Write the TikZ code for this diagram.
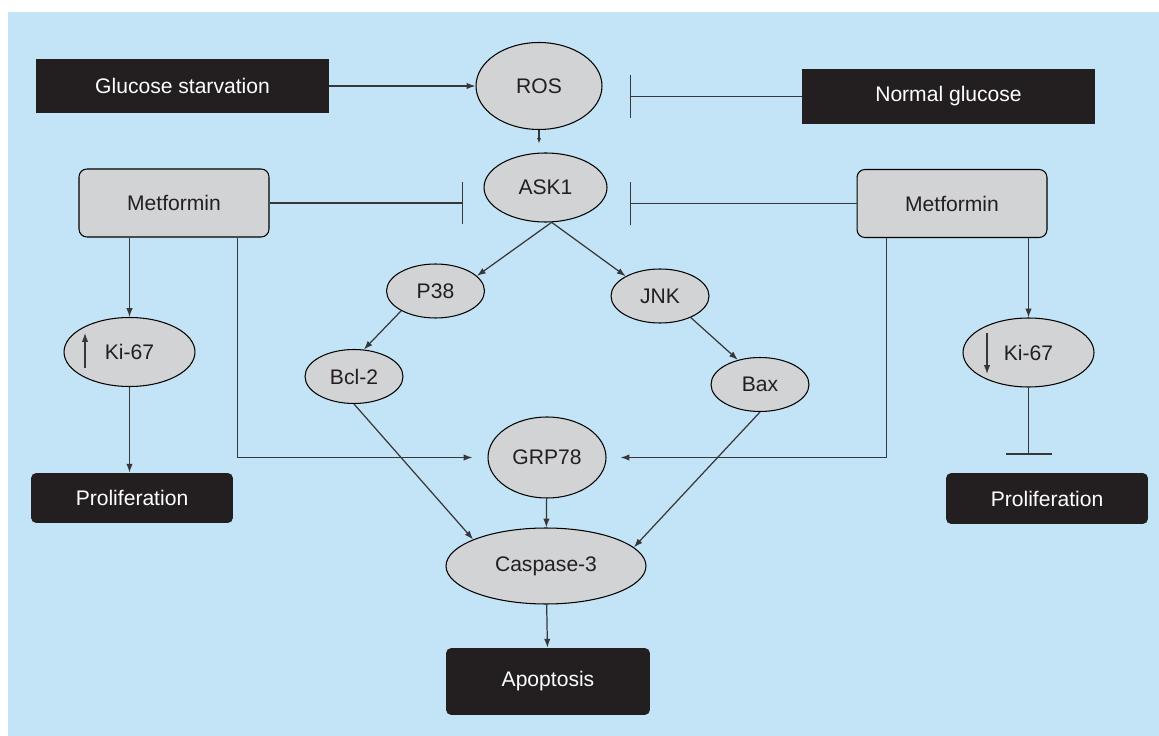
\documentclass[tikz,border=0pt]{standalone}
\usepackage{fontspec}
\setmainfont{Liberation Sans}
\usetikzlibrary{arrows.meta,shapes.geometric}

\begin{document}
\begin{tikzpicture}[x=0.02cm, y=-0.02cm,
  every node/.style={font=\fontsize{12}{14}\selectfont, inner sep=0pt},
  darkbox/.style={rectangle, fill=boxblack, text=white, minimum width=5.86cm, minimum height=1.1cm},
  endbox/.style={rectangle, rounded corners=3pt, fill=boxblack, text=white},
  drugbox/.style={rectangle, rounded corners=4.5pt, draw=black, line width=0.6pt, fill=cellgray, text=boxblack, minimum width=3.8cm, minimum height=1.36cm},
  oval/.style={ellipse, draw=black, line width=0.6pt, fill=cellgray, text=boxblack},
  smalloval/.style={oval, minimum width=1.96cm, minimum height=1.08cm},
  kioval/.style={oval, minimum width=2.62cm, minimum height=1.38cm},
  act/.style={draw=linegray, line width=0.7pt, -{Latex[length=5pt,width=3.6pt]}},
  inhibit/.style={draw=linegray, line width=0.7pt, -{Bar[width=0.86cm]}}]
  \definecolor{bgblue}{RGB}{194,228,246}
  \definecolor{cellgray}{RGB}{209,211,212}
  \definecolor{boxblack}{RGB}{35,31,32}
  \definecolor{linegray}{RGB}{55,55,58}
  \fill[white] (0,0) rectangle (1159,736);
  \fill[bgblue] (8,12) rectangle (1159,736);

  \node[darkbox] (starv) at (182.5,86) {Glucose starvation};
  \node[oval, minimum width=2.52cm, minimum height=1.74cm] (ros) at (539,86) {ROS};
  \node[darkbox] (normal) at (948.5,96.5) {Normal glucose};
  \node[oval, minimum width=2.46cm, minimum height=1.38cm] (ask) at (545.5,187.5) {ASK1};
  \node[drugbox] (metL) at (174,203) {Metformin};
  \node[drugbox] (metR) at (952,203.5) {Metformin};
  \node[kioval] (kiL) at (129.5,352) {Ki-67};
  \node[kioval] (kiR) at (1028.5,352.5) {Ki-67};
  \node[smalloval] (p38) at (435.5,291) {P38};
  \node[smalloval] (jnk) at (660,296) {JNK};
  \node[smalloval] (bcl) at (354,376.5) {Bcl-2};
  \node[smalloval] (bax) at (760,384.5) {Bax};
  \node[oval, minimum width=2.36cm, minimum height=1.62cm] (grp) at (547,457.5) {GRP78};
  \node[oval, minimum width=4cm, minimum height=1.52cm] (casp) at (546,566) {Caspase-3};
  \node[endbox, minimum width=4.04cm, minimum height=1cm] (proL) at (132,498) {Proliferation};
  \node[endbox, minimum width=4.04cm, minimum height=1.02cm] (proR) at (1047,498.5) {Proliferation};
  \node[endbox, minimum width=4.08cm, minimum height=1.34cm] (apo) at (548,681.5) {Apoptosis};

  \coordinate (rosbar) at (630,96.5);
  \coordinate (askbarL) at (463,203);
  \coordinate (askbarR) at (630,203.5);

  \draw[act] (starv.east) -- (ros.west);
  \draw[act, -{Latex[length=3pt,width=2.4pt]}, shorten >=0.18cm] (ros.south) -- (ros.south |- ask.north);
  \draw[inhibit] (normal.west) -- (rosbar);
  \draw[inhibit] (metL.east) -- (askbarL);
  \draw[inhibit] (metR.west) -- (askbarR);
  \draw[act] (ask.-80) -- (p38.20);
  \draw[act] (ask.-80) -- (jnk.150);
  \draw[act] (p38.210) -- (bcl.70);
  \draw[act] (jnk.-35) -- (bax.132);
  \draw[act] (bcl.south) -- (casp.160);
  \draw[act] (bax.south) -- (casp.12);
  \draw[act] (grp) -- (casp);
  \draw[act] (casp) -- (apo);
  \draw[act] (metL.south -| kiL.north) -- (kiL.north);
  \draw[act] (kiL.south) -- (kiL.south |- proL.north);
  \draw[act, shorten >=0.3cm] ([xshift=-0.64cm]metL.south east) |- (grp.west);
  \draw[act, shorten >=0.28cm] ([xshift=0.6cm]metR.south west) |- (grp.east);
  \draw[act] (metR.south -| kiR.north) -- (kiR.north);
  \draw[inhibit, -{Bar[width=0.92cm]}, shorten >=0.36cm] (kiR.south) -- (kiR.south |- proR.north);

  \draw[act] ([xshift=-0.89cm,yshift=-0.32cm]kiL.center) -- ([xshift=-0.89cm,yshift=0.38cm]kiL.center);
  \draw[act] ([xshift=-0.83cm,yshift=0.39cm]kiR.center) -- ([xshift=-0.83cm,yshift=-0.43cm]kiR.center);
\end{tikzpicture}
\end{document}
